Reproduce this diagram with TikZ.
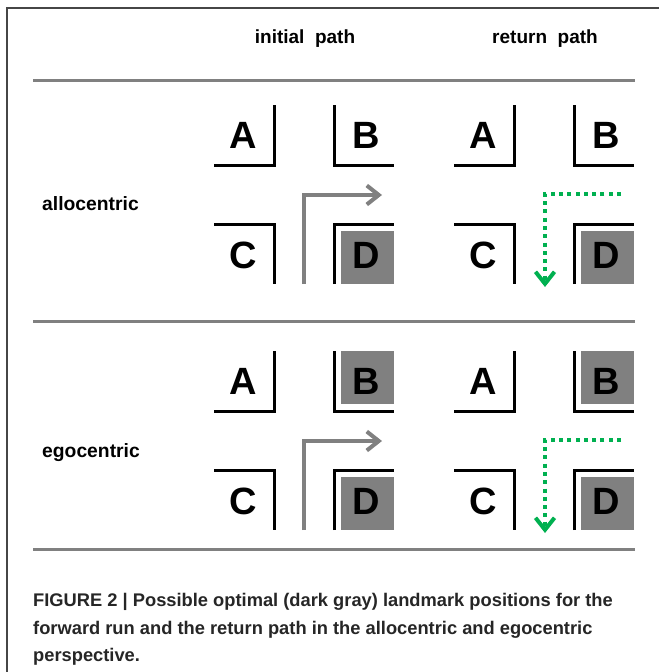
\documentclass[tikz,border=0pt]{standalone}
\usepackage{fontspec}
\setmainfont{Liberation Sans}
\usetikzlibrary{arrows.meta}
\definecolor{lmgray}{RGB}{128,128,128}
\definecolor{pathgreen}{RGB}{0,176,80}
\definecolor{framegray}{RGB}{70,70,70}
\tikzset{
  wall/.style={line width=3pt, black, line cap=butt, line join=miter},
  optbox/.style={fill=lmgray, draw=none},
  letter/.style={font=\fontsize{38}{38}\selectfont\bfseries, inner sep=0pt, anchor=base},
  sep/.style={line width=3pt, lmgray},
  hdr/.style={font=\fontsize{19}{20}\selectfont\bfseries, inner sep=0pt, anchor=base},
  rowlbl/.style={font=\fontsize{19.3}{20}\selectfont\bfseries, inner sep=0pt, anchor=base west},
  captxt/.style={font=\fontsize{18.3}{20}\selectfont\bfseries, inner sep=0pt, anchor=base west, text=black!85},
  fwd/.style={line width=4pt, lmgray, -{Straight Barb[length=12pt,width=19pt]}},
  ret/.style={line width=4pt, pathgreen, dash pattern=on 4pt off 4.3pt, -{Straight Barb[length=12pt,width=19pt]}},
}
% #1 prefix, #2 x offset, #3 y offset, #4 B filled (1/0), #5 return path (1/0)
\newcommand\drawpanel[5]{%
  \begin{scope}[shift={(#2,#3)}]
    \ifnum#4=1 \fill[optbox] (127,0) rectangle (180,53);\fi
    \fill[optbox] (127,126) rectangle (180,179);
    \draw[wall] (0,60) -- (60,60) -- (60,0);
    \draw[wall] (120,0) -- (120,60) -- (180,60);
    \draw[wall] (0,119) -- (60,119) -- (60,179);
    \draw[wall] (120,179) -- (120,119) -- (180,119);
    \node[letter] (#1A) at (29,43.5) {A};
    \node[letter] (#1B) at (152,43.5) {B};
    \node[letter] (#1C) at (29,163.5) {C};
    \node[letter] (#1D) at (152,163.5) {D};
    \ifnum#5=0
      \coordinate (#1s) at (90,179);
      \coordinate (#1k) at (90,90);
      \coordinate (#1e) at (168,90);
      \draw[fwd] (#1s) -- (#1k) -- (#1e);
    \else
      \coordinate (#1s) at (167,89);
      \coordinate (#1k) at (91,89);
      \coordinate (#1e) at (91,182);
      \draw[ret] (#1s) -- (#1k) -- (#1e);
    \fi
  \end{scope}}
\begin{document}
\begin{tikzpicture}[x=1pt,y=-1pt]
  \useasboundingbox (0,0) rectangle (659,672);
  \fill[white] (0,0) rectangle (659,672);
  % frame
  \draw[framegray, line width=1.5pt] (7,672) -- (7,8) -- (659,8);
  % headers
  \node[hdr] (hinit) at (305,43) {initial\ \ path};
  \node[hdr] (hret) at (545,43) {return\ \ path};
  % separators
  \draw[sep] (33,80) -- (635,80);
  \draw[sep] (33,321) -- (635,321);
  \draw[sep] (33,549) -- (635,549);
  % row labels
  \node[rowlbl] (lallo) at (42,210) {allocentric};
  \node[rowlbl] (lego) at (42,457) {egocentric};
  % panels
  \drawpanel{ai}{214}{105}{0}{0}
  \drawpanel{ar}{454}{105}{0}{1}
  \drawpanel{ei}{214}{351}{1}{0}
  \drawpanel{er}{454}{351}{1}{1}
  % caption
  \node[captxt] (c1) at (33,606) {FIGURE 2 | Possible optimal (dark gray) landmark positions for the};
  \node[captxt] (c2) at (33,634) {forward run and the return path in the allocentric and egocentric};
  \node[captxt] (c3) at (33,661) {perspective.};
\end{tikzpicture}
\end{document}
